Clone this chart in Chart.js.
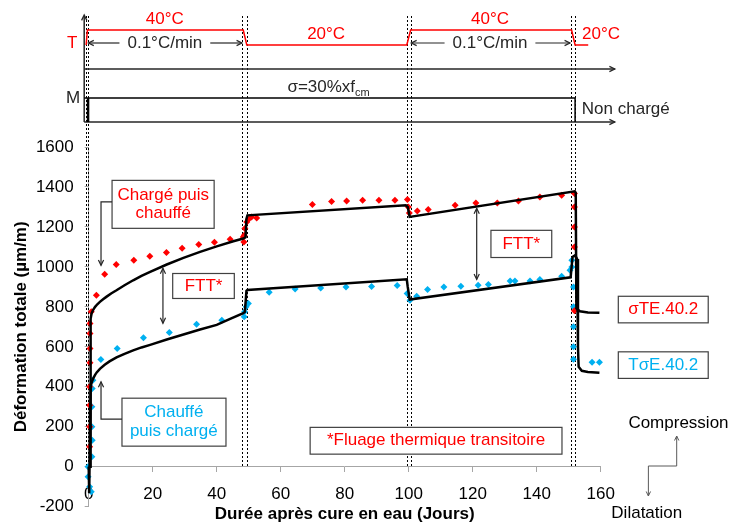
<!DOCTYPE html>
<html><head><meta charset="utf-8">
<script src="https://cdn.jsdelivr.net/npm/chart.js@4.4.1/dist/chart.umd.min.js"></script>
<style>html,body{margin:0;padding:0;background:#fff;}#wrap{width:730px;height:523px;}</style>
</head><body><div id="wrap"><canvas id="c" width="730" height="523"></canvas></div>
<script>
const FONT = '"Liberation Sans", Arial, Helvetica, sans-serif';
const RED = '#FF0000', CYAN = '#00B0F0', INK = '#262626', AXIS = '#A6A6A6';

// axis ranges / ticks
const xRange = [0, 160], xStep = 20;
const yRange = [-200, 1600], yStep = 200;

// measured points: σTE.40.2 (chargé puis chauffé)
const redX = [0.3,0.3,0.3,0.3,0.4,0.4,0.4,0.4,0.8,2.4,5.0,8.6,14.1,19.1,24.3,29.2,34.4,39.3,44.2,48.3,48.5,48.6,48.8,49.4,49.9,50.9,52.5,69.9,75.9,80.6,85.6,90.7,95.7,99.6,99.9,100.2,102.7,106.1,114.5,121.0,127.7,134.3,141.0,147.8,151.8,151.8,151.8,151.8,151.8];
const redY = [100,200,308,400,520,592,667,717,775,858,963,1012,1033,1053,1072,1093,1112,1123,1138,1150,1125,1158,1192,1225,1237,1250,1245,1312,1327,1330,1333,1333,1333,1337,1300,1270,1280,1287,1308,1320,1320,1330,1350,1358,1367,1300,1200,1100,780];
// measured points: TσE.40.2 (chauffé puis chargé)
const blueX = [-0.2,-0.2,0.3,0.8,1.0,1.1,1.0,1.0,1.1,1.3,3.8,8.9,17.1,25.2,33.7,41.6,48.6,48.7,49.2,49.9,56.4,64.5,72.5,80.4,88.4,96.4,99.5,100.4,102.5,105.9,111.0,116.3,121.7,124.9,131.7,133.2,137.9,141.0,147.8,150.4,151.0,151.0,151.5,151.5,151.5,151.5,151.5,157.3,159.6];
const blueY = [0,-50,-100,-125,50,133,200,300,392,433,537,592,645,672,713,733,750,775,800,817,873,890,895,900,902,907,867,833,853,887,900,903,908,912,930,930,930,937,953,983,1033,1000,900,800,700,600,538,523,523];
// model curves (black)
const redModelX = [0,0.5,0.6,0.9,1.4,2.0,2.7,3.5,4.5,5.5,7.0,8.7,11.2,13.9,16.5,19.2,24.4,29.6,34.8,40.0,45.2,48.3,49.0,49.3,49.6,99.1,99.7,100.3,151.9,152.2,152.4,153.5,156,159.6];
const redModelY = [0,0,740,767,785,800,813,825,838,850,867,883,908,933,955,975,1012,1045,1075,1103,1128,1142,1148,1240,1258,1308,1300,1250,1378,1370,792,778,772,770];
const blueModelX = [0,0.15,0.6,1.0,1.5,2.0,2.5,3.5,5.0,6.5,8.7,11.2,13.9,16.5,19.2,24.4,29.6,34.8,40.0,44.2,48.3,48.8,49.3,49.6,99.4,99.7,100.3,150.6,151.2,152.0,152.6,152.9,153.1,154.1,156,159.6];
const blueModelY = [0,-133,400,425,445,460,472,490,510,527,547,565,582,597,610,637,662,687,710,740,768,775,880,885,938,900,837,948,1050,1058,1040,600,500,480,474,470];

// temperature history (top diagram)
const tempX = [-0.8,-0.4,48.3,49.4,99.4,100.6,150.9,152.0,156.1];
const tempC = [20,40,40,20,20,40,40,20,20];
const phaseLines = [-0.8,-0.2,47.8,49.5,99.4,100.6,150.6,151.9];

const pts = (xs, ys) => xs.map((x, i) => ({x, y: ys[i]}));

const overlay = {
  id: 'overlay',
  beforeDatasetsDraw(chart) {
    const ctx = chart.ctx, X = v => chart.scales.x.getPixelForValue(v), Y = v => chart.scales.y.getPixelForValue(v);
    ctx.save();
    ctx.strokeStyle = '#000'; ctx.lineWidth = 1; ctx.setLineDash([2, 2]);
    phaseLines.forEach(d => { const px = Math.round(X(d)) + 0.5; ctx.beginPath(); ctx.moveTo(px, 16); ctx.lineTo(px, Y(0)); ctx.stroke(); });
    ctx.restore();
  },
  afterDraw(chart) {
    const ctx = chart.ctx, X = v => chart.scales.x.getPixelForValue(v), Y = v => chart.scales.y.getPixelForValue(v);
    ctx.save();
    const line = (pts, color, w) => { ctx.strokeStyle = color; ctx.lineWidth = w; ctx.beginPath(); pts.forEach((p, i) => i ? ctx.lineTo(p[0], p[1]) : ctx.moveTo(p[0], p[1])); ctx.stroke(); };
    const head = (x, y, ang, color, w, s) => { s = s || 6; ctx.strokeStyle = color; ctx.lineWidth = w; ctx.beginPath();
      ctx.moveTo(x - s * Math.cos(ang - 0.45), y - s * Math.sin(ang - 0.45)); ctx.lineTo(x, y);
      ctx.lineTo(x - s * Math.cos(ang + 0.45), y - s * Math.sin(ang + 0.45)); ctx.stroke(); };
    const txt = (s, x, y, color, size, align) => { ctx.fillStyle = color; ctx.font = (size || 17) + 'px ' + FONT; ctx.textAlign = align || 'center'; ctx.textBaseline = 'middle'; ctx.fillText(s, x, y); };
    const box = (x0, y0, x1, y1) => { ctx.fillStyle = '#fff'; ctx.fillRect(x0, y0, x1 - x0, y1 - y0); ctx.strokeStyle = '#404040'; ctx.lineWidth = 1.2; ctx.strokeRect(x0, y0, x1 - x0, y1 - y0); };
    const L = X(0) - 4.5;

    // ---- top diagram ----
    line([[L, 122], [L, 16]], INK, 1.5); head(L, 15, -Math.PI / 2, INK, 1.3);
    line([[L, 69], [X(164.4), 69]], INK, 1.5); head(X(164.4), 69, 0, INK, 1.3);
    line([[L, 122], [X(164.4), 122]], INK, 1.5); head(X(164.4), 122, 0, INK, 1.3);
    line([[L, 98], [X(152), 98], [X(152), 122]], '#000', 1.5);
    line([[X(-0.2), 98], [X(-0.2), 122]], '#000', 2.5);
    txt('T', L - 12, 43, RED);
    txt('M', L - 11, 98, INK);
    txt('Non chargé', X(154.1), 109, INK, 17, 'left');
    // temperature path
    const tY = c => c === 40 ? 30 : 45;
    line(tempX.map((d, i) => [X(d), tY(tempC[i])]), RED, 1.5);
    txt('40°C', X(23.8), 19, RED); txt('20°C', X(74.2), 34, RED);
    txt('40°C', X(125.4), 19, RED); txt('20°C', X(160.1), 34, RED);
    // heating rate arrows
    const rate = (a, b, c) => {
      const xa = X(a), xb = X(b), xc = X(c), y = 43;
      ctx.font = '17px ' + FONT; const w = ctx.measureText('0.1°C/min').width / 2 + 8;
      line([[xa, y], [xc - w, y]], INK, 1.2); line([[xc + w, y], [xb, y]], INK, 1.2);
      head(xa, y, Math.PI, INK, 1.2); head(xb, y, 0, INK, 1.2);
      txt('0.1°C/min', xc, y, INK);
    };
    rate(-0.1, 47.9, 23.8); rate(100.8, 150.4, 125.4);
    // sigma label
    ctx.fillStyle = INK; ctx.font = '17px ' + FONT; ctx.textAlign = 'left'; ctx.textBaseline = 'alphabetic';
    const sx = X(62.1); ctx.fillText('σ=30%xf', sx, 92);
    const sw = ctx.measureText('σ=30%xf').width; ctx.font = '11px ' + FONT; ctx.fillText('cm', sx + sw, 96);

    // ---- annotations (data coordinates) ----
    box(X(7.3), Y(1433), X(39.2), Y(1193));
    txt('Chargé puis', X(23.3), Y(1358), RED); txt('chauffé', X(23.3), Y(1268), RED);
    line([[X(7.3), Y(1325)], [X(3.85), Y(1325)], [X(3.85), Y(1008)]], INK, 1.2); head(X(3.85), Y(1008), Math.PI / 2, INK, 1.2);

    box(X(10.4), Y(343), X(42.9), Y(103));
    txt('Chauffé', X(26.6), Y(270), CYAN); txt('puis chargé', X(26.6), Y(178), CYAN);
    line([[X(10.4), Y(238)], [X(3.85), Y(238)], [X(3.85), Y(425)]], INK, 1.2); head(X(3.85), Y(425), -Math.PI / 2, INK, 1.2);

    box(X(26.25), Y(967), X(45.5), Y(842)); txt('FTT*', X(35.9), Y(904), RED);
    line([[X(23.2), Y(993)], [X(23.2), Y(718)]], INK, 1.2); head(X(23.2), Y(993), -Math.PI / 2, INK, 1.2); head(X(23.2), Y(718), Math.PI / 2, INK, 1.2);

    box(X(125.7), Y(1183), X(144.7), Y(1047)); txt('FTT*', X(135.2), Y(1115), RED);
    line([[X(121.25), Y(1293)], [X(121.25), Y(937)]], INK, 1.2); head(X(121.25), Y(1293), -Math.PI / 2, INK, 1.2); head(X(121.25), Y(937), Math.PI / 2, INK, 1.2);

    box(X(69.2), Y(197), X(147.9), Y(63)); txt('*Fluage thermique transitoire', X(108.55), Y(130), RED);

    box(X(165.5), Y(853), X(193.6), Y(720)); txt('σTE.40.2', X(179.55), Y(786), RED);
    box(X(165.5), Y(575), X(193.6), Y(442)); txt('TσE.40.2', X(179.55), Y(508), CYAN);

    // compression / dilatation
    txt('Compression', X(184.3), 423, '#000');
    txt('Dilatation', X(174.4), 513, '#000');
    line([[X(183.75), 436], [X(183.75), 466], [X(174.9), 466], [X(174.9), 496]], '#595959', 1);
    head(X(183.75), 436, -Math.PI / 2, '#595959', 1, 5); head(X(174.9), 496, Math.PI / 2, '#595959', 1, 5);
    ctx.restore();
  }
};

const tickFont = {family: FONT, size: 17};
new Chart(document.getElementById('c'), {
  type: 'scatter',
  data: {
    datasets: [
      {label: 'model σTE', data: pts(redModelX, redModelY), showLine: true, borderColor: '#000', borderWidth: 2.5, pointRadius: 0, clip: false, tension: 0},
      {label: 'model TσE', data: pts(blueModelX, blueModelY), showLine: true, borderColor: '#000', borderWidth: 2.5, pointRadius: 0, clip: false, tension: 0},
      {label: 'σTE.40.2', data: pts(redX, redY), pointStyle: 'rectRot', pointRadius: 3.5, backgroundColor: RED, borderColor: RED, borderWidth: 0, clip: false},
      {label: 'TσE.40.2', data: pts(blueX, blueY), pointStyle: 'rectRot', pointRadius: 3.5, backgroundColor: CYAN, borderColor: CYAN, borderWidth: 0, clip: false}
    ]
  },
  options: {
    responsive: false, animation: false, devicePixelRatio: 1,
    layout: {padding: {top: 147, right: 129.3, left: 0, bottom: 0}},
    plugins: {legend: {display: false}, tooltip: {enabled: false}},
    scales: {
      x: {type: 'linear', position: 'bottom', min: xRange[0], max: xRange[1],
        ticks: {display: false}, grid: {display: false}, border: {display: false},
        title: {display: true, text: 'Durée après cure en eau (Jours)', color: '#000', font: {family: FONT, size: 17, weight: 'bold', lineHeight: 1}, padding: 0},
        afterFit: s => { s.height = 16.3; }},
      x0: {type: 'linear', axis: 'x', position: {y: 0}, min: xRange[0], max: xRange[1],
        ticks: {stepSize: xStep, color: '#000', font: tickFont, padding: 12, maxRotation: 0},
        grid: {display: true, drawOnChartArea: false, drawTicks: true, tickLength: 5, color: AXIS},
        border: {display: true, color: AXIS, width: 1}},
      y: {type: 'linear', position: 'left', min: yRange[0], max: yRange[1],
        ticks: {stepSize: yStep, color: '#000', font: tickFont, padding: 11, callback: v => String(v)},
        grid: {display: true, drawOnChartArea: false, drawTicks: true, tickLength: 4, color: AXIS},
        border: {display: true, color: AXIS, width: 1},
        title: {display: true, text: 'Déformation totale (µm/m)', color: '#000', font: {family: FONT, size: 17, weight: 'bold', lineHeight: 1.2}, padding: {top: 11, bottom: 0}},
        afterFit: s => { s.width = 88.7; s.paddingTop = 0; s.paddingBottom = 0; }}
    }
  },
  plugins: [overlay]
});
</script></body></html>
